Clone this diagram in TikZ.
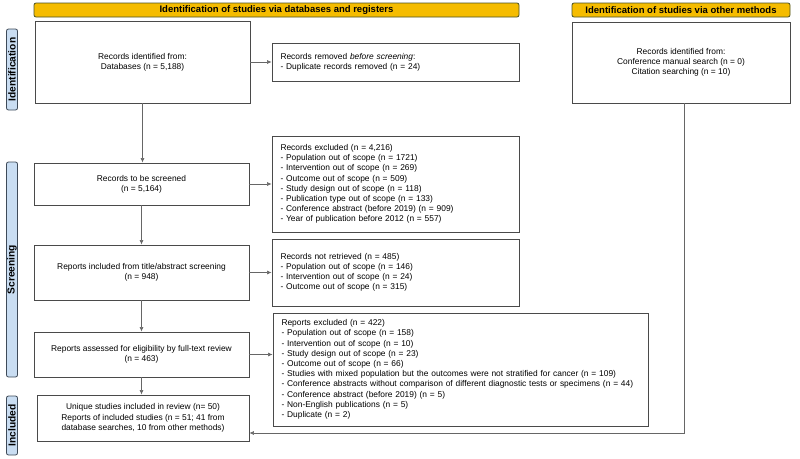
\documentclass[tikz,border=0pt]{standalone}
\usepackage{fontspec}
\setmainfont{Liberation Sans}
\usetikzlibrary{arrows.meta}

\definecolor{bargold}{HTML}{F5BC00}
\definecolor{barline}{HTML}{4A5226}
\definecolor{sideblue}{HTML}{C9DDF2}
\definecolor{sideline}{HTML}{3E4A58}
\definecolor{boxline}{HTML}{4A4A4A}
\definecolor{linkgray}{HTML}{666666}

\tikzset{
  phasebar/.style={draw=barline, fill=bargold, line width=0.8pt, rounded corners=2pt,
    inner sep=0pt, font=\fontsize{9.5}{10}\selectfont\bfseries},
  sidelabel/.style={draw=sideline, fill=sideblue, line width=0.8pt, rounded corners=2pt,
    inner sep=0pt, rotate=90, font=\fontsize{10.2}{10}\selectfont\bfseries},
  flowbox/.style={draw=boxline, fill=white, line width=0.8pt, inner sep=0pt, align=center,
    font=\fontsize{8.4}{10.2}\selectfont},
  listbox/.style={flowbox, align=left, inner xsep=8.5pt},
  link/.style={draw=linkgray, line width=0.6pt, -{Latex[length=4.5pt,width=4pt]}}
}

\begin{document}
\begin{tikzpicture}[x=1pt, y=-1pt]
  \useasboundingbox (0,0) rectangle (800,458);

  % phase headers
  \node[phasebar, minimum width=485, minimum height=14] (dbbar) at (276.5,10)
    {Identification of studies via databases and registers};
  \node[phasebar, minimum width=218, minimum height=14] (otherbar) at (681,10)
    {Identification of studies via other methods};

  % side labels
  \node[sidelabel, minimum width=81, minimum height=11] (identlab) at (12,69.5) {Identification};
  \node[sidelabel, minimum width=215, minimum height=11] (screenlab) at (12,269.5) {Screening};
  \node[sidelabel, minimum width=59, minimum height=11] (inclab) at (12,425.5) {Included};

  % identification
  \node[flowbox, minimum width=215, minimum height=82] (ident) at (142.5,62)
    {Records identified from:\\Databases (n = 5,188)};
  \node[listbox, minimum width=247, minimum height=38, text width=230] (removed) at (395.5,62)
    {Records removed \textit{before screening}:\\- Duplicate records removed (n = 24)};
  \node[flowbox, minimum width=218, minimum height=81] (other) at (681,62.5)
    {Records identified from:\\Conference manual search (n = 0)\\Citation searching (n = 10)};

  % screening
  \node[flowbox, minimum width=215, minimum height=42] (screened) at (141.5,184)
    {Records to be screened\\(n = 5,164)};
  \node[listbox, minimum width=247, minimum height=96, text width=230] (excluded) at (395.5,184)
    {Records excluded (n = 4,216)\\
     - Population out of scope (n = 1721)\\
     - Intervention out of scope (n = 269)\\
     - Outcome out of scope (n = 509)\\
     - Study design out of scope (n = 118)\\
     - Publication type out of scope (n = 133)\\
     - Conference abstract (before 2019) (n = 909)\\
     - Year of publication before 2012 (n = 557)};
  \node[flowbox, minimum width=215, minimum height=55] (titleabs) at (141.5,272.5)
    {Reports included from title/abstract screening\\(n = 948)};
  \node[listbox, minimum width=247, minimum height=67, text width=230] (notret) at (395.5,272.5)
    {Records not retrieved (n = 485)\\
     - Population out of scope (n = 146)\\
     - Intervention out of scope (n = 24)\\
     - Outcome out of scope (n = 315)};
  \node[flowbox, minimum width=215, minimum height=45] (assessed) at (141.5,354.5)
    {Reports assessed for eligibility by full-text review\\(n = 463)};
  \node[listbox, minimum width=375, minimum height=113, text width=358] (repexcl) at (460.5,369.5)
    {Reports excluded (n = 422)\\
     - Population out of scope (n = 158)\\
     - Intervention out of scope (n = 10)\\
     - Study design out of scope (n = 23)\\
     - Outcome out of scope (n = 66)\\
     - Studies with mixed population but the outcomes were not stratified for cancer (n = 109)\\
     - Conference abstracts without comparison of different diagnostic tests or specimens (n = 44)\\
     - Conference abstract (before 2019) (n = 5)\\
     - Non-English publications (n = 5)\\
     - Duplicate (n = 2)};

  % included
  \node[flowbox, minimum width=212, minimum height=46] (included) at (143,418)
    {Unique studies included in review (n= 50)\\
     Reports of included studies (n = 51; 41 from\\
     database searches, 10 from other methods)};

  % connectors
  \coordinate (otherdrop) at (684,433);
  \draw[link] (ident) -- (removed);
  \draw[link] (ident.south) -- (ident.south |- screened.north);
  \draw[link] (screened) -- (excluded);
  \draw[link] (screened.south) -- (screened.south |- titleabs.north);
  \draw[link] (titleabs) -- (notret);
  \draw[link] (titleabs.south) -- (titleabs.south |- assessed.north);
  \draw[link] (assessed.east) -- (assessed.east -| repexcl.west);
  \draw[link] (assessed.south) -- (assessed.south |- included.north);
  \draw[link] (other.south -| otherdrop) -- (otherdrop) -- (otherdrop -| included.east);
\end{tikzpicture}
\end{document}
